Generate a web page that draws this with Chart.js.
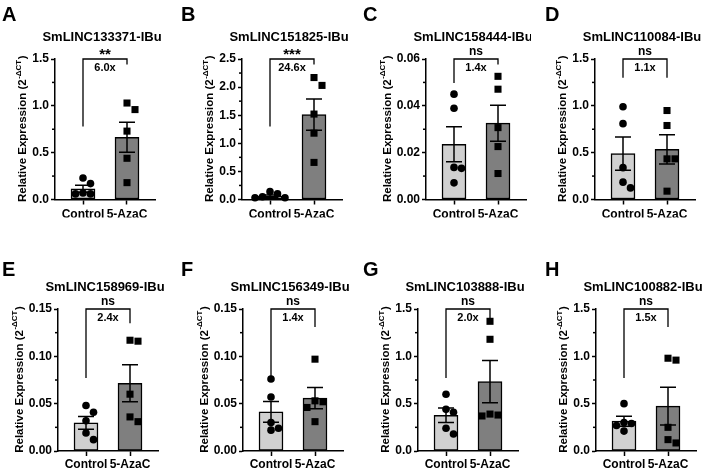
<!DOCTYPE html>
<html lang="en">
<head>
<meta charset="UTF-8">
<title>SmLINC expression after 5-AzaC</title>
<script src="https://cdn.jsdelivr.net/npm/chart.js"></script>
<style>
  * { margin: 0; padding: 0; box-sizing: border-box; }
  body { width: 708px; height: 470px; background: #fff; position: relative; overflow: hidden; }
  canvas { position: absolute; }
</style>
</head>
<body>
<script>
  // values
  const letters = ['A', 'B', 'C', 'D', 'E', 'F', 'G', 'H'];
  const titles = ['SmLINC133371-IBu', 'SmLINC151825-IBu', 'SmLINC158444-IBu', 'SmLINC110084-IBu',
                  'SmLINC158969-IBu', 'SmLINC156349-IBu', 'SmLINC103888-IBu', 'SmLINC100882-IBu'];
  const groups = ['Control', '5-AzaC'];
  const yMax = [1.5, 2.5, 0.06, 1.5, 0.15, 0.15, 1.5, 1.5];
  const yStep = [0.5, 0.5, 0.02, 0.5, 0.05, 0.05, 0.5, 0.5];
  const yDecimals = [1, 1, 2, 1, 2, 2, 1, 1];

  const ctrlPoints = [
    [0.23, 0.17, 0.07, 0.06, 0.06],
    [0.14, 0.10, 0.05, 0.03, 0.03],
    [0.045, 0.039, 0.0137, 0.0133, 0.0071],
    [0.99, 0.81, 0.34, 0.185, 0.124],
    [0.048, 0.041, 0.032, 0.019, 0.012],
    [0.076, 0.057, 0.030, 0.024, 0.022],
    [0.60, 0.44, 0.41, 0.24, 0.18],
    [0.50, 0.30, 0.29, 0.27, 0.21]
  ];
  const azaPoints = [
    [1.03, 0.96, 0.73, 0.44, 0.18],
    [2.17, 2.03, 1.52, 1.18, 0.66],
    [0.0526, 0.0471, 0.0307, 0.0226, 0.0111],
    [0.95, 0.79, 0.434, 0.434, 0.089],
    [0.117, 0.116, 0.060, 0.036, 0.031],
    [0.097, 0.053, 0.052, 0.046, 0.031],
    [1.37, 1.18, 0.39, 0.38, 0.37],
    [0.98, 0.96, 0.25, 0.12, 0.085]
  ];
  const ctrlMean = [0.115, 0.06, 0.0236, 0.49, 0.0297, 0.0414, 0.378, 0.315];
  const ctrlSem = [0.037, 0.02, 0.0075, 0.178, 0.0068, 0.011, 0.076, 0.053];
  const azaMean = [0.665, 1.51, 0.0326, 0.535, 0.0715, 0.0559, 0.732, 0.474];
  const azaSem = [0.16, 0.28, 0.0077, 0.155, 0.0195, 0.0112, 0.223, 0.2];

  const sigText = ['**', '***', 'ns', 'ns', 'ns', 'ns', 'ns', 'ns'];
  const foldText = ['6.0x', '24.6x', '1.4x', '1.1x', '2.4x', '1.4x', '2.0x', '1.5x'];
  const bracketLeft = [0.78, 1.30, 0.0497, 1.30, 0.077, 0.077, 0.77, 0.77];
  const bracketRight = [1.44, 2.40, 0.0576, 1.30, 0.135, 0.131, 1.40, 1.31];

  // layout (page pixels)
  const FONT = '"Liberation Sans", Arial, sans-serif';
  const PW = 177, PH = 235;
  const axisLeft = [55, 242, 426, 595, 58, 243, 418, 596];
  const letterOffset = [2, 4, 9, 14];
  const letterBase = [21, 276];
  const plotTop = [59, 309];
  const plotBottom = [199.5, 451];
  const AXIS_W = 100, CTRL_OFF = 28, GAP = 44, Y_W = 40, X_H = 18;

  // simple beeswarm so overlapping points spread sideways
  function swarm(vals, max, d) {
    const placed = [];
    return vals.map(v => {
      const py = v / max * 141;
      let dx = 0;
      for (let k = 0; k < 30; k++) {
        dx = (k % 2 ? 1 : -1) * Math.ceil(k / 2) * d;
        if (placed.every(p => (p.dx - dx) ** 2 + (p.py - py) ** 2 >= d * d)) break;
      }
      placed.push({ dx, py });
      return dx / GAP;
    });
  }

  function line(ctx, x1, y1, x2, y2) {
    ctx.beginPath(); ctx.moveTo(x1, y1); ctx.lineTo(x2, y2); ctx.stroke();
  }

  function panelPlugin(i, col, row, left, top) {
    return {
      id: 'panel' + i,
      afterDraw(chart) {
        const { ctx, chartArea: a, scales: { x, y } } = chart;
        ctx.save();
        ctx.strokeStyle = '#000';
        ctx.fillStyle = '#000';
        ctx.lineWidth = 1.5;

        // minor y ticks
        for (let v = yStep[i] / 2; v < yMax[i]; v += yStep[i]) {
          const py = y.getPixelForValue(v);
          line(ctx, a.left - 3, py, a.left, py);
        }

        // error bars (mean +/- SEM)
        [[ctrlMean, ctrlSem], [azaMean, azaSem]].forEach(([m, s], g) => {
          const px = x.getPixelForValue(g);
          const t = y.getPixelForValue(m[i] + s[i]);
          const b = y.getPixelForValue(Math.max(0, m[i] - s[i]));
          ctx.beginPath();
          ctx.moveTo(px, t); ctx.lineTo(px, b);
          ctx.moveTo(px - 8, t); ctx.lineTo(px + 8, t);
          ctx.moveTo(px - 8, b); ctx.lineTo(px + 8, b);
          ctx.stroke();
        });

        // significance bracket
        const x0 = x.getPixelForValue(0), x1 = x.getPixelForValue(1);
        const by = y.getPixelForValue(yMax[i]);
        ctx.lineWidth = 1.3;
        ctx.beginPath();
        ctx.moveTo(x0, y.getPixelForValue(bracketLeft[i]));
        ctx.lineTo(x0, by);
        ctx.lineTo(x1, by);
        ctx.lineTo(x1, y.getPixelForValue(bracketRight[i]));
        ctx.stroke();

        const mid = (x0 + x1) / 2;
        ctx.textAlign = 'center';
        ctx.textBaseline = 'alphabetic';
        if (sigText[i] === 'ns') {
          ctx.font = 'bold 12px ' + FONT;
          ctx.fillText('ns', mid, by - 4.5);
        } else {
          ctx.font = 'bold 15px ' + FONT;
          ctx.fillText(sigText[i], mid, by);
        }
        ctx.font = 'bold 11px ' + FONT;
        ctx.textBaseline = 'middle';
        ctx.fillText(foldText[i], mid, by + 9);

        // panel title
        ctx.font = 'bold 13px ' + FONT;
        ctx.fillText(titles[i], a.left + 47, a.top - 22);

        // panel letter
        ctx.font = 'bold 20px ' + FONT;
        ctx.textAlign = 'left';
        ctx.textBaseline = 'alphabetic';
        ctx.fillText(letters[i], letterOffset[col], letterBase[row] - top);

        // y axis title with superscript
        ctx.font = 'bold 12px ' + FONT;
        const labelW = Math.max(...y.ticks.map(t => ctx.measureText(t.label || '').width));
        const tx = a.left - 6 - labelW - 9;
        const main = 'Relative Expression (2', sup = '-\u0394CT';
        const MAIN = 'bold 11.5px ' + FONT, SUP = 'bold 8px ' + FONT;
        ctx.font = MAIN;
        const w1 = ctx.measureText(main).width, w3 = ctx.measureText(')').width;
        ctx.font = SUP;
        const w2 = ctx.measureText(sup).width;
        ctx.translate(tx, (a.top + a.bottom) / 2);
        ctx.rotate(-Math.PI / 2);
        let cx = -(w1 + w2 + w3) / 2;
        ctx.textAlign = 'left';
        ctx.textBaseline = 'middle';
        ctx.font = MAIN; ctx.fillText(main, cx, 0); cx += w1;
        ctx.font = SUP; ctx.fillText(sup, cx + 0.5, -5); cx += w2 + 1;
        ctx.font = MAIN; ctx.fillText(')', cx, 0);
        ctx.restore();
      }
    };
  }

  for (let i = 0; i < 8; i++) {
    const col = i % 4, row = Math.floor(i / 4);
    const left = col * PW, top = row * PH;
    const cv = document.createElement('canvas');
    cv.width = PW; cv.height = PH;
    cv.style.left = left + 'px'; cv.style.top = top + 'px';
    document.body.appendChild(cv);

    const localAxis = axisLeft[i] - left;
    const cj = swarm(ctrlPoints[i], yMax[i], 7.5);
    const aj = swarm(azaPoints[i], yMax[i], 8);
    const tickFont = { family: FONT, size: 12, weight: 'bold' };

    new Chart(cv, {
      type: 'bar',
      data: {
        datasets: [
          {
            type: 'bar',
            data: [{ x: 0, y: ctrlMean[i] }, { x: 1, y: azaMean[i] }],
            backgroundColor: ['#d0d0d0', '#7f7f7f'],
            borderColor: '#000',
            borderWidth: 1.5,
            borderSkipped: false,
            barThickness: 24,
            order: 3
          },
          {
            type: 'scatter',
            data: ctrlPoints[i].map((v, k) => ({ x: cj[k], y: v })),
            pointStyle: 'circle',
            pointRadius: 3.8,
            backgroundColor: '#000',
            borderWidth: 0,
            clip: false,
            order: 1
          },
          {
            type: 'scatter',
            data: azaPoints[i].map((v, k) => ({ x: 1 + aj[k], y: v })),
            pointStyle: 'rect',
            pointRadius: 5,
            backgroundColor: '#000',
            borderWidth: 0,
            clip: false,
            order: 2
          }
        ]
      },
      options: {
        responsive: false,
        animation: false,
        devicePixelRatio: 1,
        layout: {
          padding: {
            left: localAxis - Y_W,
            right: PW - localAxis - AXIS_W,
            top: plotTop[row] - top,
            bottom: PH - (plotBottom[row] - top) - X_H
          }
        },
        plugins: { legend: { display: false }, tooltip: { enabled: false }, title: { display: false } },
        scales: {
          x: {
            type: 'linear',
            offset: false,
            min: -CTRL_OFF / GAP,
            max: (AXIS_W - CTRL_OFF) / GAP,
            afterBuildTicks: s => { s.ticks = [{ value: 0 }, { value: 1 }]; },
            afterFit: s => { s.height = X_H; },
            ticks: {
              callback: (v, k) => groups[k],
              font: tickFont, color: '#000',
              padding: row ? 1 : 3, autoSkip: false, maxRotation: 0
            },
            grid: { offset: false, drawOnChartArea: false, drawTicks: true, tickLength: 5, tickWidth: 1.5, tickColor: '#000' },
            border: { color: '#000', width: 1.5 }
          },
          y: {
            min: 0,
            max: yMax[i],
            afterFit: s => { s.width = Y_W; },
            ticks: {
              stepSize: yStep[i] / 2,
              autoSkip: false,
              font: tickFont, color: '#000', padding: 2,
              callback: v => (Math.round(v / (yStep[i] / 2)) % 2 ? '' : v.toFixed(yDecimals[i]))
            },
            grid: {
              drawOnChartArea: false, drawTicks: true, tickLength: 4, tickWidth: 1.5,
              tickColor: c => (c.index % 2 ? 'rgba(0,0,0,0)' : '#000')
            },
            border: { color: '#000', width: 1.5 }
          }
        }
      },
      plugins: [panelPlugin(i, col, row, left, top)]
    });
  }
</script>
</body>
</html>
